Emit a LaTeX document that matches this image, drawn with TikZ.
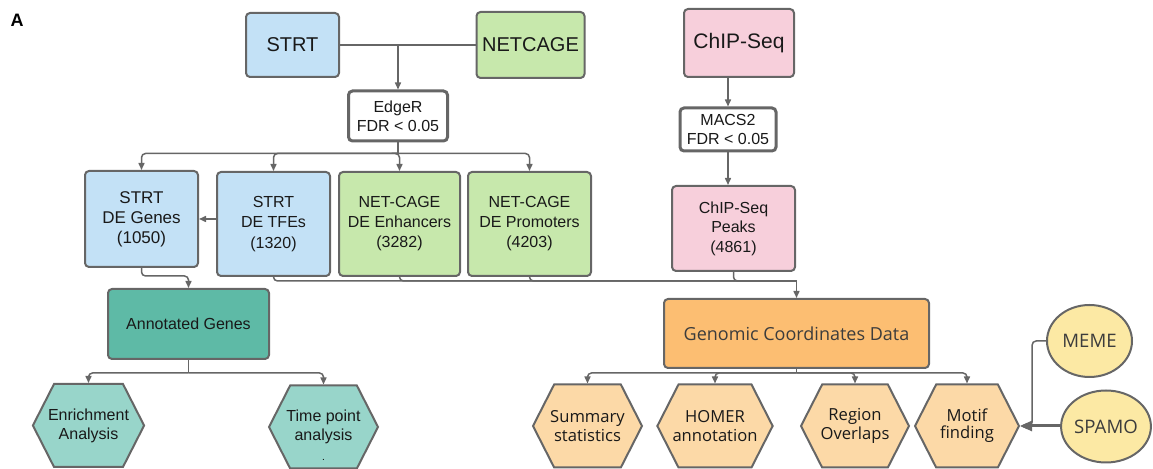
\documentclass[tikz,border=0pt]{standalone}
\usepackage{fontspec}
\setmainfont{Liberation Sans}
\newfontfamily\opensans{Open Sans}
\usetikzlibrary{shapes.symbols,shapes.geometric,arrows.meta}

\definecolor{strtblue}{RGB}{195,225,246}
\definecolor{cagegreen}{RGB}{199,232,172}
\definecolor{chippink}{RGB}{247,207,219}
\definecolor{annteal}{RGB}{94,186,166}
\definecolor{hexteal}{RGB}{152,213,202}
\definecolor{gcorange}{RGB}{252,190,114}
\definecolor{hexorange}{RGB}{252,217,167}
\definecolor{toolyellow}{RGB}{252,233,164}
\definecolor{edgegray}{RGB}{102,102,102}
\definecolor{textgray}{RGB}{60,60,60}

\tikzset{
  box/.style={draw=edgegray, line width=1pt, rounded corners=2pt, align=center, inner sep=1pt, text=black!90},
  filt/.style={box, fill=white, line width=1.5pt, font=\fontsize{8}{9.5}\selectfont},
  hexa/.style={signal, signal to=west and east, signal pointer angle=126, draw=edgegray, line width=1pt,
    align=center, minimum width=55pt, minimum height=41.5pt, inner xsep=-3pt, inner ysep=0pt, text=black!90},
  tool/.style={ellipse, draw=edgegray, line width=1pt, fill=toolyellow, minimum width=42.5pt,
    minimum height=36pt, inner sep=0pt, text=textgray, font=\opensans\fontsize{9.3}{11}\selectfont},
  link/.style={draw=edgegray, line width=0.75pt, rounded corners=2pt},
  arr/.style={link, -{Triangle[length=3.5pt,width=3pt]}},
}

\begin{document}
\begin{tikzpicture}[x=0.5pt, y=-0.5pt]
    \useasboundingbox (0,0) rectangle (1153,469);

    \node[font=\fontsize{9}{10}\selectfont\bfseries] (lbl) at (17,20) {A};

    \node[box, fill=strtblue, minimum width=46.5pt, minimum height=32pt, font=\fontsize{10}{12}\selectfont] (strt) at (292.5,45) {STRT};
    \node[box, fill=cagegreen, minimum width=54pt, minimum height=33pt, font=\fontsize{10}{12}\selectfont] (netcage) at (530.5,45) {NETCAGE};
    \node[box, fill=chippink, minimum width=55pt, minimum height=34pt, font=\fontsize{10.5}{12}\selectfont] (chip) at (739,43) {ChIP-Seq};

    \node[filt, minimum width=49.5pt, minimum height=25pt] (edger) at (398,116) {EdgeR\\FDR < 0.05};
    \node[filt, minimum width=48pt, minimum height=21.5pt] (macs) at (728,129.5) {MACS2\\FDR < 0.05};

    \node[box, fill=strtblue, minimum width=56.5pt, minimum height=48pt, font=\fontsize{8.5}{10}\selectfont] (genes) at (141.5,219) {STRT\\DE Genes\\(1050)};
    \node[box, fill=strtblue, minimum width=56.5pt, minimum height=52pt, font=\fontsize{8}{10.2}\selectfont] (tfes) at (273.5,224) {STRT\\DE TFEs\\(1320)};
    \node[box, fill=cagegreen, minimum width=60.5pt, minimum height=52pt, font=\fontsize{8}{10}\selectfont] (enh) at (399.5,224) {NET-CAGE\\DE Enhancers\\(3282)};
    \node[box, fill=cagegreen, minimum width=61.5pt, minimum height=52pt, font=\fontsize{8}{10}\selectfont] (prom) at (529.5,224) {NET-CAGE\\DE Promoters\\(4203)};
    \node[box, fill=chippink, minimum width=61.5pt, minimum height=42.5pt, font=\fontsize{8}{9.8}\selectfont] (peaks) at (733.5,228.5) {ChIP-Seq\\Peaks\\(4861)};

    \node[box, fill=annteal, minimum width=80.5pt, minimum height=35pt, font=\fontsize{8}{10}\selectfont] (annot) at (188.5,324) {Annotated Genes};
    \node[box, fill=gcorange, minimum width=132.5pt, minimum height=34.5pt, text=textgray, font=\opensans\fontsize{9}{11}\selectfont] (genomic) at (796.5,333.5) {Genomic Coordinates Data};

    \node[hexa, fill=hexteal, font=\fontsize{8}{9.5}\selectfont] (enrich) at (88.5,425.5) {Enrichment\\Analysis};
    \node[hexa, fill=hexteal, minimum width=54.5pt, font=\fontsize{8}{9.5}\selectfont,
      label={[font=\tiny, inner sep=0pt, yshift=5.5pt]south:.}] (timept) at (323.5,427) {Time point\\analysis};
    \node[hexa, fill=hexorange, minimum width=54.5pt, font=\opensans\fontsize{8.3}{9.5}\selectfont] (summ) at (587.5,426) {Summary\\statistics};
    \node[hexa, fill=hexorange, minimum width=57pt, font=\opensans\fontsize{8.3}{9.5}\selectfont] (homer) at (715,426) {HOMER\\annotation};
    \node[hexa, fill=hexorange, minimum width=54pt, font=\opensans\fontsize{8.3}{9.5}\selectfont] (region) at (855,426) {Region\\Overlaps};
    \node[hexa, fill=hexorange, minimum width=52pt, font=\opensans\fontsize{8.3}{8.5}\selectfont] (motif) at (967,426) {Motif\\finding};

    \node[tool] (meme) at (1089.5,341) {MEME};
    \node[tool, minimum width=43pt] (spamo) at (1106,426.5) {SPAMO};

    \draw[link] (strt.east) -- (netcage.west);
    \draw[arr] (edger.north |- strt.east) -- (edger.north);
    \draw[arr] (chip.south -| macs.north) -- (macs.north);
    \draw[arr] (macs.south) -- (macs.south |- peaks.north);

    \path (edger.south) ++(0,11) coordinate (split1);
    \draw[link] (edger.south) -- (split1);
    \foreach \b in {genes,tfes,enh,prom}
        \draw[arr] (split1) -| (\b.north);

    \draw[arr] (genes.east -| tfes.west) -- (genes.east);
    \draw[arr] (genes.south) -- ++(0,8) -| (annot.north);

    \path (genomic.north) ++(0,-17) coordinate (merge);
    \foreach \b in {tfes,enh,prom,peaks}
        \draw[link] (\b.south) |- (merge);
    \draw[arr] (merge) -- (genomic.north);

    \path (annot.south) ++(0,13) coordinate (split2);
    \draw[link] (annot.south) -- (split2);
    \foreach \h in {enrich,timept}
        \draw[arr] (split2) -| (\h.north);

    \path (genomic.south) ++(0,4) coordinate (split3);
    \draw[link] (genomic.south) -- (split3);
    \foreach \h in {summ,homer,region,motif}
        \draw[arr] (split3) -| (\h.north);

    \path (motif.east) ++(12,0) coordinate (mjoin);
    \draw[arr] (meme.west) -| (mjoin) -- (motif.east);
    \draw[link, line width=1.5pt, -{Triangle[length=6pt,width=5pt]}] (motif.east -| spamo.west) -- (motif.east);
\end{tikzpicture}
\end{document}
